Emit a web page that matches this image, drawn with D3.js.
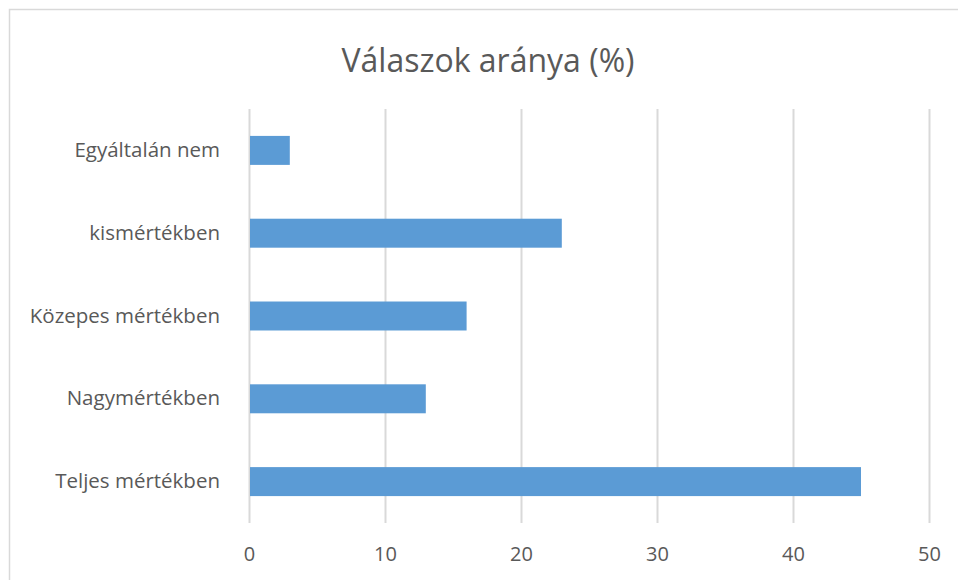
<!DOCTYPE html>
<html>
<head>
<meta charset="utf-8">
<script src="https://cdn.jsdelivr.net/npm/d3@7"></script>
<style>
  body { margin: 0; background: #fff; }
  text { font-family: "Open Sans", sans-serif; fill: #595959; }
</style>
</head>
<body>
<div id="chart"></div>
<script>
// data
var categories = ["Egyáltalán nem", "kismértékben", "Közepes mértékben", "Nagymértékben", "Teljes mértékben"];
var values = [3, 23, 16, 13, 45];
var ticks = [0, 10, 20, 30, 40, 50];

var w = 958, h = 580;
var margin = {top: 109, right: 29, bottom: 57, left: 249};

var svg = d3.select("#chart")
    .append("svg")
    .attr("width", w)
    .attr("height", h);

// chart area border
svg.append("rect")
    .attr("x", 9.5).attr("y", 9.5)
    .attr("width", w + 20).attr("height", h + 20)
    .attr("fill", "none")
    .attr("stroke", "#d9d9d9")
    .attr("stroke-width", 1.5);

svg.append("text")
    .attr("x", 488)
    .attr("y", 72)
    .attr("text-anchor", "middle")
    .style("font-size", "32px")
    .text("Válaszok aránya (%)");

var g = svg.append("g")
    .attr("transform", "translate(" + margin.left + "," + margin.top + ")");

var iw = w - margin.left - margin.right;
var ih = h - margin.top - margin.bottom;

var x = d3.scaleLinear().domain([0, 50]).range([0, iw]);
var y = d3.scaleBand().domain(categories).range([0, ih]).paddingInner(0.65).paddingOuter(0.325);

// gridlines
g.selectAll(".grid")
    .data(ticks)
    .enter()
    .append("line")
    .attr("class", "grid")
    .attr("x1", function(d) { return Math.round(x(d)) + 0.5; })
    .attr("x2", function(d) { return Math.round(x(d)) + 0.5; })
    .attr("y1", 0)
    .attr("y2", ih)
    .attr("stroke", "#d9d9d9")
    .attr("stroke-width", 2);

g.selectAll(".bar")
    .data(values)
    .enter()
    .append("rect")
    .attr("class", "bar")
    .attr("x", x(0) + 1)
    .attr("y", function(d, i) { return y(categories[i]); })
    .attr("width", function(d) { return x(d) - 1; })
    .attr("height", y.bandwidth())
    .attr("fill", "#5b9bd5");

// x axis labels
var xAxis = d3.axisBottom(x).tickValues(ticks).tickSize(0).tickPadding(24);
var xg = g.append("g")
    .attr("transform", "translate(0," + ih + ")")
    .call(xAxis);
xg.select(".domain").remove();
xg.selectAll("text").style("font-size", "20px").attr("fill", "#595959");

// y axis labels
var yAxis = d3.axisLeft(y).tickSize(0).tickPadding(29);
var yg = g.append("g").call(yAxis);
yg.select(".domain").remove();
yg.selectAll("text").style("font-size", "20.5px").attr("fill", "#595959");
</script>
</body>
</html>
